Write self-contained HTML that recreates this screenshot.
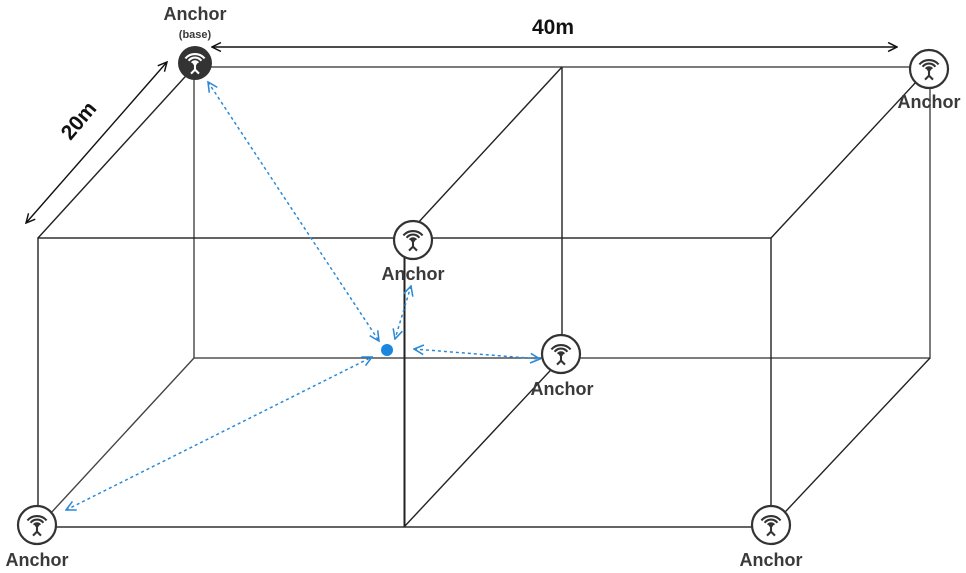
<!DOCTYPE html>
<html><head><style>
html,body{margin:0;padding:0;background:#fff;}
svg{display:block;}
text{font-family:"Liberation Sans",sans-serif;font-weight:bold;fill:#3a3a3a;}
</style></head><body>
<svg width="966" height="573" viewBox="0 0 966 573" xmlns="http://www.w3.org/2000/svg">
<defs>
<marker id="ab" viewBox="0 0 10 10" refX="9" refY="5" markerWidth="8" markerHeight="8" orient="auto-start-reverse"><path d="M1 1 L9 5 L1 9" fill="none" stroke="#111" stroke-width="1.3"/></marker>
<marker id="ad" viewBox="0 0 10 10" refX="9" refY="5" markerWidth="8" markerHeight="8" orient="auto-start-reverse"><path d="M1 1 L9 5 L1 9" fill="none" stroke="#2a8ad8" stroke-width="1.3"/></marker>
<g id="ic" transform="scale(1.6)"><path d="M-6 -1 A8 8 0 0 1 6 -1 M-4 0.5 A5 5 0 0 1 4 0.5 M-2 1.8 A2.5 2.5 0 0 1 2 1.8" fill="none" stroke="currentColor" stroke-width="1.3"/><circle cx="0" cy="2" r="1.3" fill="currentColor"/><path d="M0 2 V6 M0 6 L-2.5 8.5 M0 6 L2.5 8.5" stroke="currentColor" stroke-width="1.3" fill="none"/></g>
</defs>
<g stroke="#222" stroke-width="1.4" fill="none">
<rect x="194" y="67" width="736" height="291" stroke="#444"/>
<rect x="38" y="238" width="733" height="289"/>
<line x1="562" y1="67" x2="562" y2="358"/>
<line x1="404.5" y1="238" x2="404.5" y2="527" stroke-width="2"/>
<line x1="194" y1="67" x2="38" y2="238"/>
<line x1="930" y1="67" x2="771" y2="238"/>
<line x1="194" y1="358" x2="38" y2="527" stroke="#444"/>
<line x1="930" y1="358" x2="771" y2="527"/>
<line x1="562" y1="67" x2="404" y2="238"/>
<line x1="562" y1="358" x2="404" y2="527"/>
</g>
<line x1="212" y1="47" x2="897" y2="47" stroke="#111" stroke-width="1.4" marker-start="url(#ab)" marker-end="url(#ab)"/>
<line x1="167" y1="62" x2="26" y2="223" stroke="#111" stroke-width="1.4" marker-start="url(#ab)" marker-end="url(#ab)"/>
<text x="553" y="34" font-size="21" text-anchor="middle" style="fill:#111">40m</text>
<text x="0" y="0" font-size="21" text-anchor="middle" transform="translate(84,125) rotate(-50)" style="fill:#111">20m</text>
<g stroke="#2a8ad8" stroke-width="1.5" stroke-dasharray="3,3" fill="none" marker-start="url(#ad)" marker-end="url(#ad)">
<line x1="208" y1="82" x2="379" y2="341"/>
<line x1="411" y1="286" x2="395" y2="339"/>
<line x1="414" y1="349" x2="540" y2="359"/>
<line x1="66" y1="510" x2="372" y2="357"/>
</g>
<circle cx="387" cy="350" r="6" fill="#1a86e0"/>
<circle cx="195" cy="63" r="17" fill="#333"/>
<use href="#ic" x="195" y="60" style="color:#fff"/>
<g fill="#fff" stroke="#333" stroke-width="2.2">
<circle cx="929" cy="69" r="19"/><circle cx="413" cy="240" r="19"/><circle cx="561" cy="354" r="19"/><circle cx="37" cy="525" r="19"/><circle cx="771" cy="525" r="19"/>
</g>
<g style="color:#333">
<use href="#ic" x="929" y="66"/><use href="#ic" x="413" y="237"/><use href="#ic" x="561" y="351"/><use href="#ic" x="37" y="522"/><use href="#ic" x="771" y="522"/>
</g>
<g font-size="18" text-anchor="middle">
<text x="195" y="20">Anchor</text>
<text x="195" y="38" font-size="11">(base)</text>
<text x="929" y="108">Anchor</text>
<text x="413" y="280">Anchor</text>
<text x="562" y="395">Anchor</text>
<text x="37" y="566">Anchor</text>
<text x="771" y="566">Anchor</text>
</g>
</svg>
</body></html>
